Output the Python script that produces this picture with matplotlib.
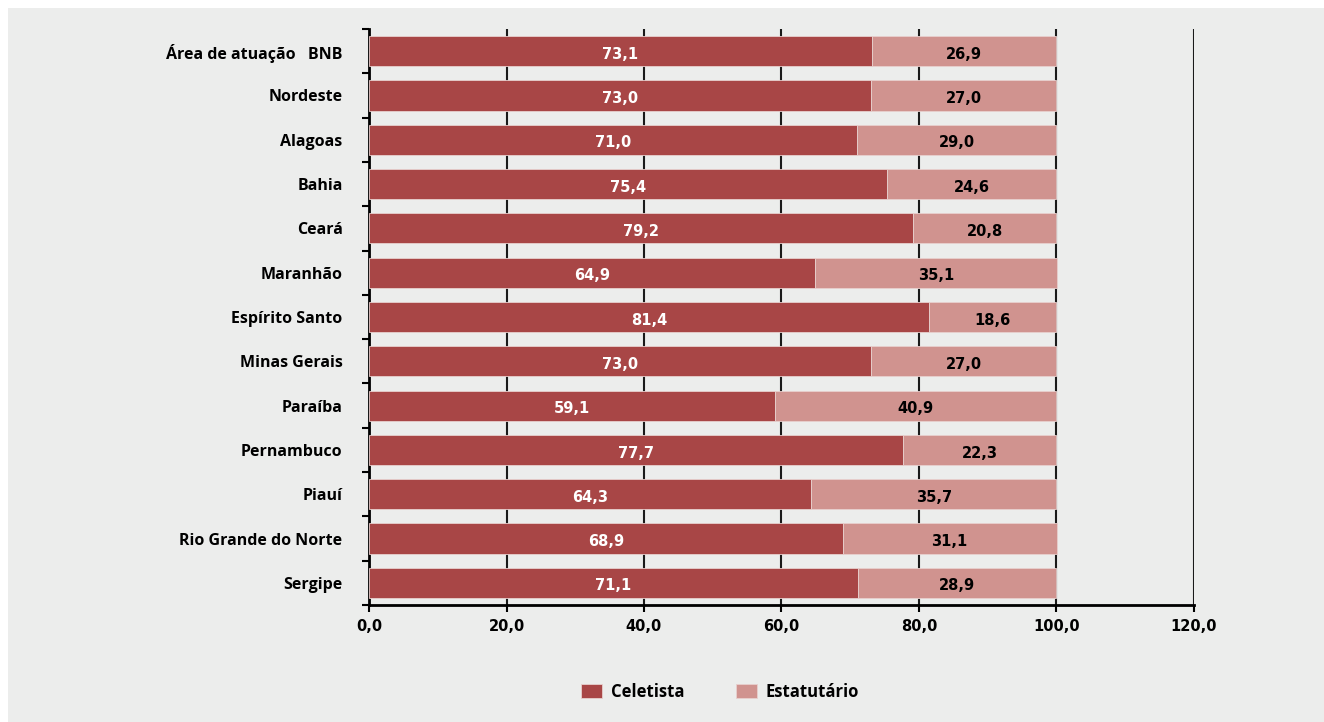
import numpy as np
import matplotlib
matplotlib.use('Agg')
from matplotlib import pyplot as plt
from matplotlib.patches import Rectangle

categorias = ['Área de atuação   BNB', 'Nordeste', 'Alagoas', 'Bahia', 'Ceará', 'Maranhão',
              'Espírito Santo', 'Minas Gerais', 'Paraíba', 'Pernambuco', 'Piauí',
              'Rio Grande do Norte', 'Sergipe']
celetista = [73.1, 73.0, 71.0, 75.4, 79.2, 64.9, 81.4, 73.0, 59.1, 77.7, 64.3, 68.9, 71.1]
estatutario = [26.9, 27.0, 29.0, 24.6, 20.8, 35.1, 18.6, 27.0, 40.9, 22.3, 35.7, 31.1, 28.9]
xticks = [0, 20, 40, 60, 80, 100, 120]

cor_cel = '#A84646'
cor_est = '#D0938F'
fundo = '#ECEDEC'
fonte_num = ['DejaVu Sans']

plt.rcParams['font.family'] = ['Open Sans', 'DejaVu Sans']
plt.rcParams['font.weight'] = 'bold'

fig = plt.figure(figsize=(13.24, 7.22), dpi=100)
fig.patch.set_facecolor('white')
fig.patches.append(Rectangle((8 / 1324, 0), 1, 1 - 8 / 722, transform=fig.transFigure,
                             facecolor=fundo, edgecolor='none', zorder=-10))

ax = fig.add_axes([369 / 1324, 1 - 605 / 722, (1194 - 369) / 1324, (605 - 29) / 722])
ax.set_facecolor(fundo)

y = np.arange(len(categorias))
ax.barh(y, celetista, height=0.68, color=cor_cel, edgecolor='#E8D0CE', linewidth=0.6,
        label='Celetista', zorder=3)
ax.barh(y, estatutario, left=celetista, height=0.68, color=cor_est, edgecolor='#E8D0CE',
        linewidth=0.6, label='Estatutário', zorder=3)

for i in range(len(categorias)):
    ax.text(celetista[i] / 2, y[i] + 0.07, f'{celetista[i]:.1f}'.replace('.', ','),
            ha='center', va='center', color='white', fontsize=10.5, fontweight='bold',
            family=fonte_num, zorder=4)
    ax.text(celetista[i] + estatutario[i] / 2, y[i] + 0.07,
            f'{estatutario[i]:.1f}'.replace('.', ','),
            ha='center', va='center', color='black', fontsize=10.5, fontweight='bold',
            family=fonte_num, zorder=4)

ax.set_xlim(0, 120)
ax.set_ylim(len(categorias) - 0.5, -0.5)
ax.set_xticks(xticks)
ax.set_xticklabels([f'{v:.1f}'.replace('.', ',') for v in xticks], fontsize=10.5,
                   fontweight='bold', family=fonte_num)
ax.set_yticks(y)
ax.set_yticklabels(categorias, fontsize=11.5, fontweight='bold')
ax.set_yticks(np.arange(len(categorias) + 1) - 0.5, minor=True)
ax.tick_params(axis='y', which='major', length=0, pad=19)
ax.tick_params(axis='y', which='minor', length=5, width=1.5, color='black')
ax.tick_params(axis='x', length=5, width=1.5, pad=5)
ax.grid(axis='x', color='#1a1a1a', linewidth=1.5, zorder=1)

for s in ['top', 'right']:
    ax.spines[s].set_visible(False)
for s in ['left', 'bottom']:
    ax.spines[s].set_linewidth(2)
    ax.spines[s].set_color('black')

fig.legend(loc='center', bbox_to_anchor=(720 / 1324, 1 - 692 / 722), ncol=2, frameon=False,
           handlelength=1.26, handleheight=0.9, handletextpad=0.54, columnspacing=3.06,
           prop={'weight': 'bold', 'size': 12})

fig.savefig('out.png', dpi=100, facecolor=fig.get_facecolor())
